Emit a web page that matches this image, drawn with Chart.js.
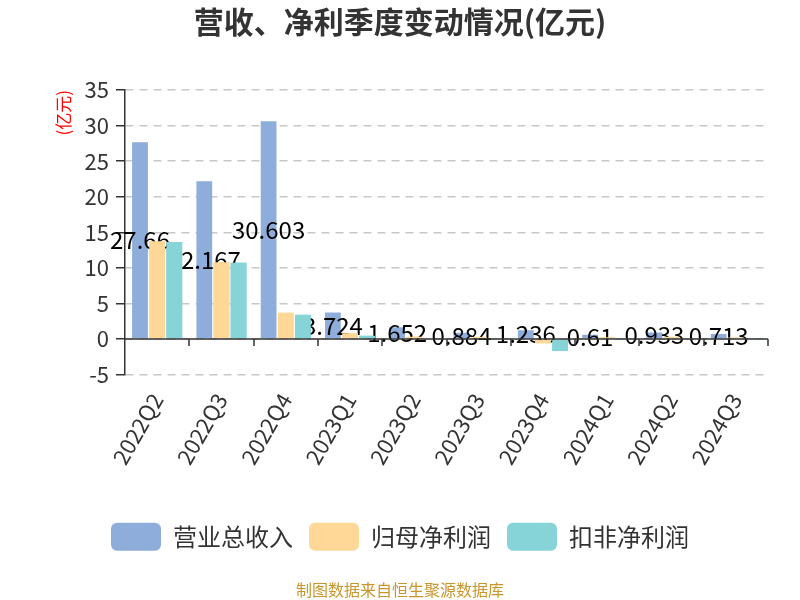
<!DOCTYPE html>
<html>
<head>
<meta charset="utf-8">
<script src="https://cdn.jsdelivr.net/npm/chart.js@4.4.0/dist/chart.umd.min.js"></script>
<style>
  html, body { margin: 0; padding: 0; background: #fff; }
  #wrap { width: 800px; height: 600px; }
</style>
</head>
<body>
<div id="wrap"><canvas id="myBarChart" width="800" height="600"></canvas></div>
<script>
// quarters and values (亿元)
var quarters = ['2022Q2','2022Q3','2022Q4','2023Q1','2023Q2','2023Q3','2023Q4','2024Q1','2024Q2','2024Q3'];
var revenue = [27.66, 22.167, 30.603, 3.724, 1.652, 0.884, 1.236, 0.61, 0.933, 0.713];
var netProfit = [13.75, 10.78, 3.68, 0.82, 0.32, 0.3, -0.6, 0.25, 0.3, 0.2];
var deductedProfit = [13.65, 10.73, 3.4, 0.45, 0.1, 0.08, -1.7, 0.06, 0.06, 0.05];
var seriesNames = ['营业总收入','归母净利润','扣非净利润'];
var yTicks = [-5, 0, 5, 10, 15, 20, 25, 30, 35];

var FONT = "'Noto Sans CJK SC', 'Noto Sans', sans-serif";
Chart.defaults.font.family = FONT;
Chart.defaults.color = '#333';

// zero axis line with tick marks between categories
var zeroAxis = {
	id: 'zeroAxis',
	afterDatasetsDraw: function(chart) {
		var ctx = chart.ctx, x = chart.scales.x, y = chart.scales.y;
		var y0 = y.getPixelForValue(0);
		var n = quarters.length, step = (x.right - x.left) / n;
		ctx.save();
		ctx.strokeStyle = '#333';
		ctx.lineWidth = 1.5;
		ctx.beginPath();
		ctx.moveTo(x.left, y0);
		ctx.lineTo(x.right, y0);
		for (var k = 1; k <= n; k++) {
			var px = Math.round(x.left + k * step);
			ctx.moveTo(px, y0);
			ctx.lineTo(px, y0 + 7);
		}
		ctx.stroke();
		ctx.restore();
	}
};

// revenue value labels in the middle of each revenue bar,
// the two profit series are painted again over them
var valueLabels = {
	id: 'valueLabels',
	afterDatasetsDraw: function(chart) {
		var ctx = chart.ctx;
		var meta = chart.getDatasetMeta(0);
		ctx.save();
		ctx.font = "24px " + FONT;
		ctx.fillStyle = '#000';
		ctx.textAlign = 'center';
		ctx.textBaseline = 'middle';
		meta.data.forEach(function(bar, i) {
			ctx.fillText(String(revenue[i]), bar.x, (bar.y + bar.base) / 2);
		});
		ctx.restore();
		[2, 1].forEach(function(idx) {
			chart.getDatasetMeta(idx).data.forEach(function(bar) { bar.draw(ctx); });
		});
	}
};

var ctx = document.getElementById('myBarChart');
var myBarChart = new Chart(ctx, {
	type: 'bar',
	data: {
		labels: quarters,
		datasets: [
			{ label: seriesNames[0], data: revenue, backgroundColor: '#8eaddb' },
			{ label: seriesNames[1], data: netProfit, backgroundColor: '#ffd898' },
			{ label: seriesNames[2], data: deductedProfit, backgroundColor: '#87d4d8' }
		]
	},
	plugins: [valueLabels, zeroAxis],
	options: {
		responsive: false,
		animation: false,
		devicePixelRatio: 1,
		categoryPercentage: 0.8,
		barPercentage: 0.92,
		layout: { padding: { left: 32, right: 32, top: 0, bottom: 0 } },
		plugins: {
			title: {
				display: true,
				text: '营收、净利季度变动情况(亿元)',
				color: '#333',
				font: { size: 30, weight: 'bold' },
				padding: { top: 4, bottom: 50 }
			},
			subtitle: {
				display: true,
				position: 'bottom',
				text: '制图数据来自恒生聚源数据库',
				color: '#c8962c',
				font: { size: 16 },
				padding: { top: 20, bottom: 0 }
			},
			legend: {
				position: 'bottom',
				labels: {
					boxWidth: 50,
					boxHeight: 28,
					useBorderRadius: true,
					borderRadius: 6,
					padding: 16,
					color: '#333',
					font: { size: 24 }
				}
			},
			tooltip: { enabled: false }
		},
		scales: {
			x: {
				grid: { display: false },
				border: { display: false },
				afterFit: function(scale) { scale.height += 32; },
				ticks: {
					color: '#333',
					font: { size: 22 },
					minRotation: 60,
					maxRotation: 60,
					padding: 6
				}
			},
			y: {
				min: -5,
				max: 35,
				afterBuildTicks: function(scale) {
					scale.ticks = yTicks.map(function(v) { return { value: v }; });
				},
				afterFit: function(scale) { scale.width = 93; },
				border: { display: true, color: '#333', width: 1.5, dash: [8, 6] },
				grid: {
					color: '#c8c8c8',
					lineWidth: 1.5,
					tickColor: '#333',
					tickLength: 9,
					tickWidth: 1.5
				},
				ticks: {
					color: '#333',
					font: { size: 22 },
					padding: 7
				},
				title: {
					display: true,
					text: '(亿元)',
					align: 'end',
					color: '#ff0000',
					font: { size: 17 },
					padding: { top: 21, bottom: 1 }
				}
			}
		}
	}
});
</script>
</body>
</html>
